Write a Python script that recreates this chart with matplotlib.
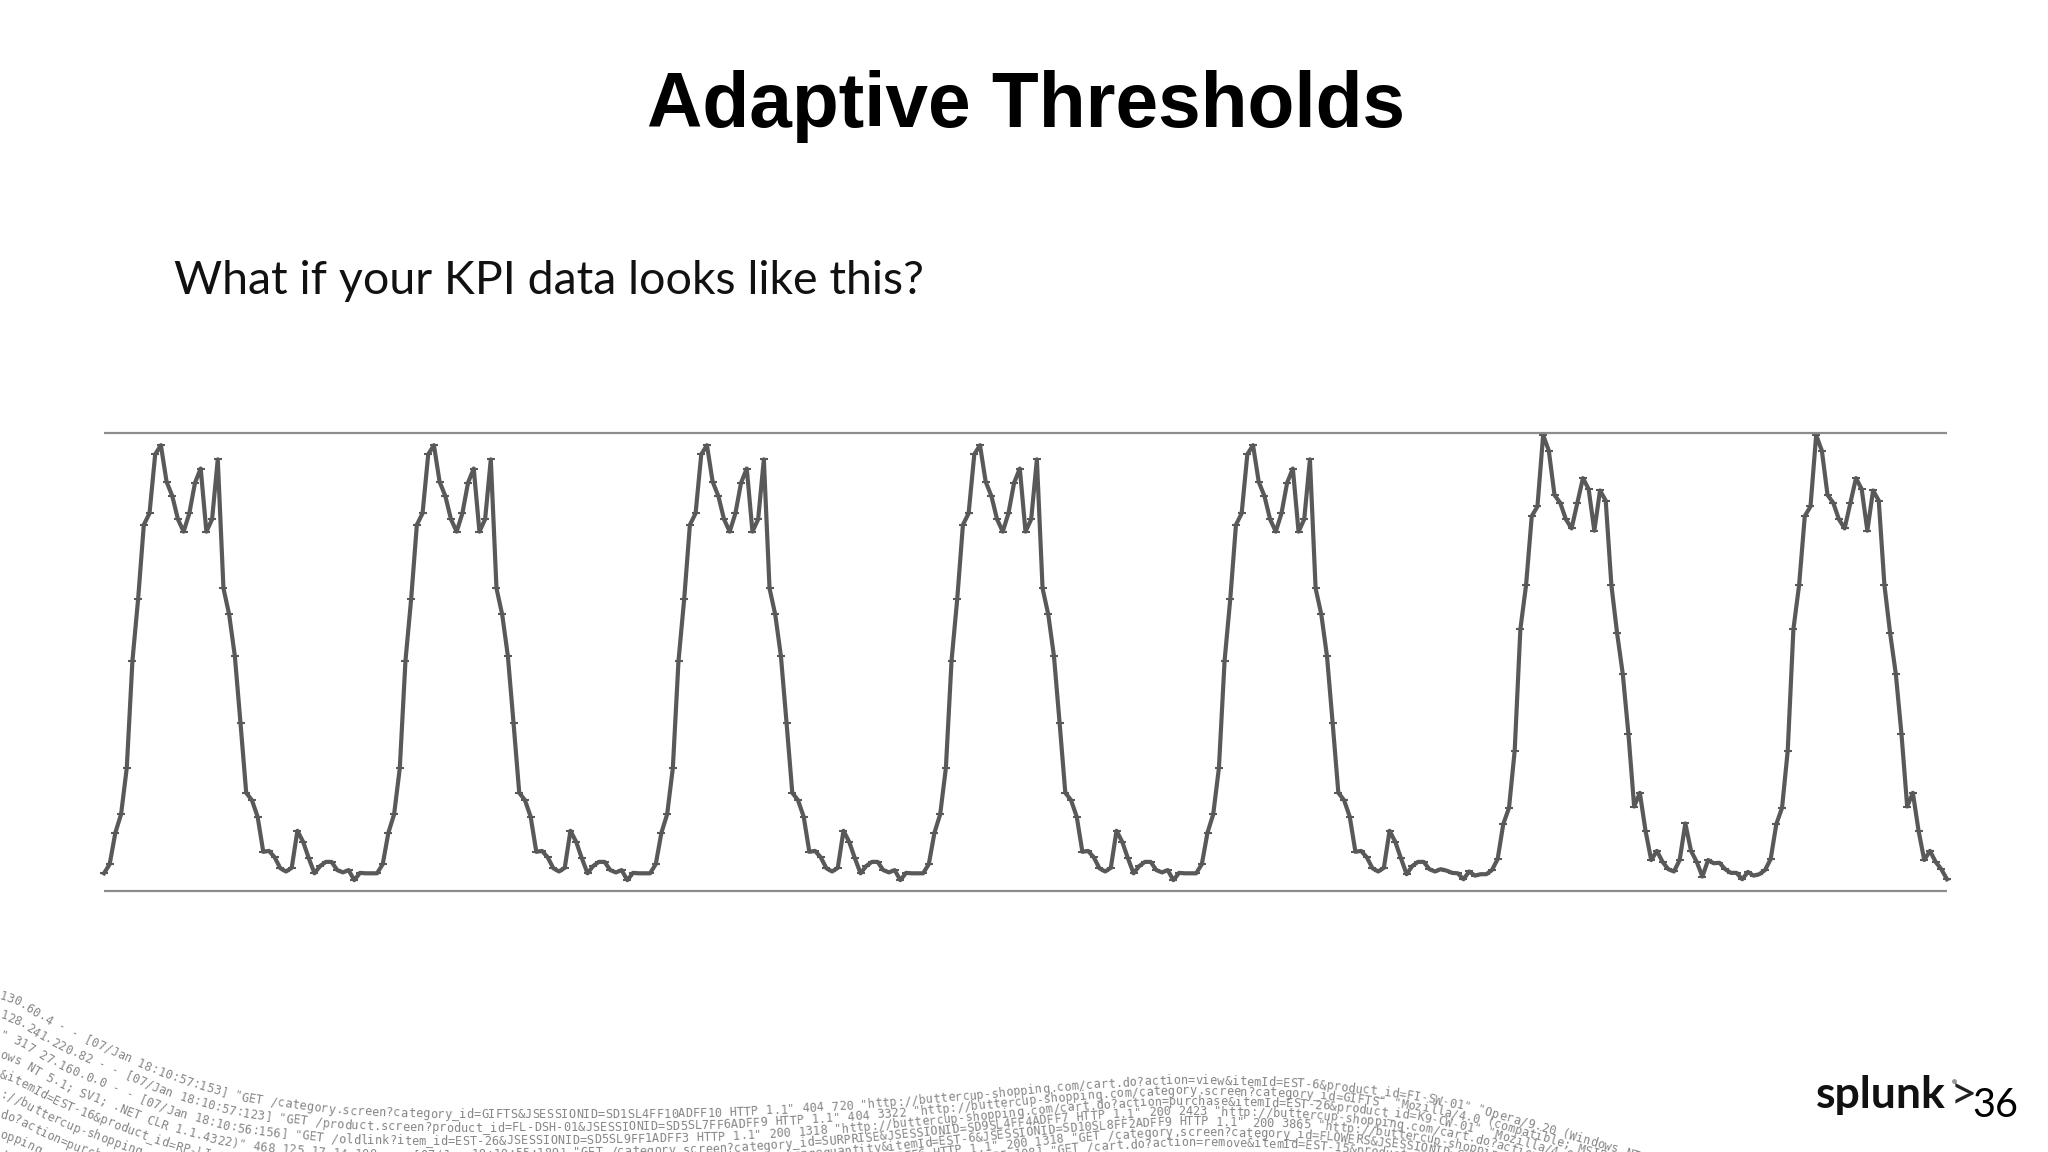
import numpy as np
import matplotlib
matplotlib.use("Agg")
import matplotlib.pyplot as plt

# one "normal" day of the KPI, 0 = bottom line, 100 = top line
day_a = [3.8, 5.8, 12.7, 16.7, 26.8, 50.3, 63.8, 80.0, 82.5, 95.4, 97.4, 89.4,
         86.3, 81.2, 78.5, 82.5, 89.2, 92.3, 78.5, 81.2, 94.3, 66.1, 60.4, 51.3,
         36.6, 21.4, 19.8, 16.2, 8.5, 8.7, 7.3, 4.9, 4.2, 5.0, 13.1, 10.7,
         7.1, 3.8, 5.4, 6.3, 6.3, 4.5, 4.0, 4.5, 2.3, 3.9, 3.8, 3.8]
# the fifth day has a longer quiet tail after the small spike
day_a_tail = [10.7, 7.1, 3.6, 5.4, 6.3, 6.3, 4.7, 4.2, 4.7, 4.4, 3.9, 3.8,
              2.5, 4.2, 3.3, 3.6]
# last two days are a bit taller
day_b = [3.6, 4.5, 6.9, 14.6, 18.1, 30.6, 57.2, 66.8, 81.9, 84.0, 99.6, 96.2,
         86.5, 84.8, 81.2, 79.2, 84.7, 90.2, 87.8, 78.7, 87.5, 85.3, 66.8, 56.3,
         47.4, 34.2, 18.4, 21.4, 13.1, 6.7, 8.7, 6.3, 4.7, 4.2, 6.7, 14.7,
         8.7, 6.3, 3.1, 6.7, 6.0, 6.1, 4.7, 3.9, 3.9, 2.5, 4.1, 3.3]
day_b_end = [3.6, 4.5, 6.9, 14.6, 18.1, 30.6, 57.2, 66.8, 81.9, 84.0, 99.6, 96.2,
             86.5, 84.8, 81.2, 79.2, 84.7, 90.2, 87.8, 78.7, 87.5, 85.3, 66.8, 56.3,
             47.4, 34.2, 18.4, 21.4, 13.1, 6.7, 8.7, 6.3, 4.7, 2.5]

kpi = day_a * 4 + day_a[:35] + day_a_tail + day_b + day_b_end

log_rows = [
    '130.60.4 - - [07/Jan 18:10:57:153] "GET /category.screen?category_id=GIFTS&JSESSIONID=SD1SL4FF10ADFF10 HTTP 1.1" 404 720 "http://buttercup-shopping.com/cart.do?action=view&itemId=EST-6&product_id=FI-SW-01" "Opera/9.20 (Windows NT 6.0; en)"',
    '128.241.220.82 - - [07/Jan 18:10:57:123] "GET /product.screen?product_id=FL-DSH-01&JSESSIONID=SD5SL7FF6ADFF9 HTTP 1.1" 404 3322 "http://buttercup-shopping.com/category.screen?category_id=GIFTS" "Mozilla/4.0 (compatible; MSIE 6.0; Windows NT 5.1)"',
    '" 317 27.160.0.0 - - [07/Jan 18:10:56:156] "GET /oldlink?item_id=EST-26&JSESSIONID=SD5SL9FF1ADFF3 HTTP 1.1" 200 1318 "http://buttercup-shopping.com/cart.do?action=purchase&itemId=EST-26&product_id=K9-CW-01" "Mozilla/4.0 (compatible; MSIE 7.0)"',
    'ows NT 5.1; SV1; .NET CLR 1.1.4322)" 468 125.17.14.100 - - [07/Jan 18:10:55:189] "GET /category.screen?category_id=SURPRISE&JSESSIONID=SD9SL4FF4ADFF7 HTTP 1.1" 200 2423 "http://buttercup-shopping.com/cart.do?action=purchase&itemId=EST-18&product_id=AV-CB-01&JSESSIONID=SD5SL7FF6ADFF9',
    '&itemId=EST-16&product_id=RP-LI-02" "Opera/9.20 (Windows NT 6.0; en)" 145 10.10:55:187] "GET /cart.do?action=changequantity&itemId=EST-6&JSESSIONID=SD10SL8FF2ADFF9 HTTP 1.1" 200 3865 "http://buttercup-shopping.com/cart.do?action=',
    '://buttercup-shopping.com/oldlink?item_id=EST-26&JSESSIONID=SD10SL8FF2ADFF9 "GET /oldlink?item_id=EST-6&JSESSIONID=SD8SL8FF1ADFF6 HTTP 1.1" 200 1318 "GET /category.screen?category_id=FLOWERS&JSESSIONID=SD8SL8FF1ADFF6 HTTP 1.1"',
    'do?action=purchase&itemId=EST-26 HTTP 1.1" 200 2423 18:10:55:111] "GET /category.screen?category_id=SURPRISE&JSESSIONID=SD8SL8FF1ADFF6 10:55:108] "GET /cart.do?action=remove&itemId=EST-15&product_id=FI-SW-01',
    'opping.com/cart.do?action=view&itemId=EST-6 HTTP 1.1" 404 720 "http://buttercup-shopping.com/category.screen?category_id=GIFTS&JSESSIONID=SD1SL4FF10ADFF10',
    '//buttercup-shopping.com/cart.do?action=view&itemId=EST-16&product_id=RP-LI-02 HTTP 1.1" 200 2423',
    '00 3322 "http://buttercup-shopping.com/oldlink?item_id=EST-26',
]
row_path_x = [3, 52, 111, 170, 240, 341, 458, 590, 720, 851, 983, 1074, 1179, 1310, 1415, 1480, 1546, 1638, 1720]
row_path_y = [992, 1024, 1051, 1077, 1098, 1111, 1115, 1115, 1113.5, 1106, 1095, 1086, 1080, 1084, 1096, 1110, 1129, 1156, 1185]
gap_x = [0, 300, 500, 1000, 1500, 1800]
gap_y = [20, 15, 13, 10.5, 10, 10]

CHAR_STEP = 7.3

fig = plt.figure(figsize=(20.48, 11.52), dpi=100, facecolor="white")

# whole slide in pixels for the texts
bg = fig.add_axes([0, 0, 1, 1])
bg.set_xlim(0, 2048)
bg.set_ylim(1152, 0)
bg.axis("off")

bg.text(1026, 127, "Adaptive Thresholds", family="Liberation Sans", weight="bold",
        fontsize=55.2, ha="center", va="baseline", color="black")
bg.text(174, 294, "What if your KPI data looks like this?", family="Lato",
        fontsize=33.5, ha="left", va="baseline", color="#111111")

# the curved web log at the bottom of the template
for r, row in enumerate(log_rows):
    xs = np.arange(0.0, 1721.0, 2.0)
    ys = np.interp(xs, row_path_x, row_path_y) + r * np.interp(xs, gap_x, gap_y)
    kernel = np.ones(25) / 25
    ys_s = np.convolve(np.pad(ys, 12, mode="edge"), kernel, mode="valid")
    s = np.concatenate([[0], np.cumsum(np.hypot(np.diff(xs), np.diff(ys_s)))])
    ang = np.degrees(np.arctan2(np.gradient(ys_s), np.gradient(xs)))
    for j, ch in enumerate(row):
        pos = j * CHAR_STEP
        if pos > s[-1] or ch == " ":
            continue
        cx = np.interp(pos, s, xs)
        cy = np.interp(pos, s, ys_s)
        if cy > 1165:
            continue
        bg.text(cx, cy, ch, family="DejaVu Sans Mono", fontsize=8.6, color="#858585",
                rotation=-np.interp(pos, s, ang), rotation_mode="anchor",
                ha="left", va="center")

# logo + slide number
bg.text(1816, 1108, "splunk", family="Lato", weight="bold", fontsize=32,
        ha="left", va="baseline", color="#111111")
bg.text(1950, 1109, ">", family="Lato", fontsize=34, ha="left", va="baseline", color="#222222")
bg.plot([1954], [1081], "o", ms=2.5, color="#999999")
bg.text(1972, 1117, "36", family="Lato", fontsize=28.5, ha="left", va="baseline", color="black")

# chart
left, right, top, bottom = 104, 1947, 433.3, 890.7
ax = fig.add_axes([left / 2048, 1 - bottom / 1152, (right - left) / 2048, (bottom - top) / 1152])
ax.patch.set_alpha(0)
ax.plot(np.arange(len(kpi)), kpi, color="#595959", lw=3.0, marker="_", ms=6, mew=1.5,
        solid_joinstyle="round", clip_on=False)
ax.set_xlim(0, len(kpi) - 1)
ax.set_ylim(0, 100)
ax.set_xticks([])
ax.set_yticks([])
for side in ["left", "right"]:
    ax.spines[side].set_visible(False)
for side in ["top", "bottom"]:
    ax.spines[side].set_color("#8c8c8c")
    ax.spines[side].set_linewidth(1.6)
    ax.spines[side].set_capstyle("butt")

fig.savefig("out.png", dpi=100)
